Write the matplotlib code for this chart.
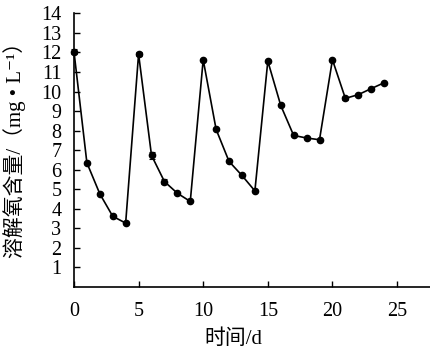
"""Dissolved oxygen content over time"""
import matplotlib
matplotlib.use('Agg')
import matplotlib.pyplot as plt

plt.rcParams['font.family'] = ['Liberation Serif', 'DejaVu Serif', 'Noto Sans CJK SC']

days = list(range(25))
do_values = [12.05, 6.35, 4.76, 3.61, 3.26,
             11.92, 6.73, 5.39, 4.79, 4.37,
             11.63, 8.06, 6.42, 5.70, 4.91,
             11.56, 9.29, 7.75, 7.62, 7.53,
             11.63, 9.65, 9.84, 10.15, 10.45]
do_err = [0.15, 0.05, 0.05, 0.05, 0.05,
          0.08, 0.18, 0.15, 0.05, 0.05,
          0.05, 0.05, 0.05, 0.05, 0.05,
          0.05, 0.05, 0.05, 0.05, 0.05,
          0.05, 0.08, 0.05, 0.05, 0.05]
x_ticks = [0, 5, 10, 15, 20, 25]
y_ticks = list(range(1, 15))

fig = plt.figure(figsize=(4.3, 3.54), dpi=100)
ax = fig.add_axes([0.172, 0.19, 0.828, 0.772])

ax.errorbar(days, do_values, yerr=do_err, color='black', marker='o', markersize=4.5,
            linewidth=1.2, elinewidth=0.8, capsize=2, capthick=0.8, clip_on=False, zorder=3)

ax.set_xlim(0, 27.55)
ax.set_ylim(0, 14)
ax.set_xticks(x_ticks)
ax.set_yticks(y_ticks)
ax.tick_params(direction='in', labelsize=14.5, length=4, width=1)
ax.tick_params(axis='y', pad=9)
ax.tick_params(axis='x', pad=11)
ax.spines['top'].set_visible(False)
ax.spines['right'].set_visible(False)
for s in ('left', 'bottom'):
    ax.spines[s].set_linewidth(1.2)

ax.set_xlabel('时间/d', fontsize=15)
ax.xaxis.set_label_coords(0.447, -0.155)
ax.set_ylabel('溶解氧含量/（mg • L⁻¹）', fontsize=15)
ax.yaxis.set_label_coords(-0.135, 0.52)

fig.savefig('out.png', dpi=100)
